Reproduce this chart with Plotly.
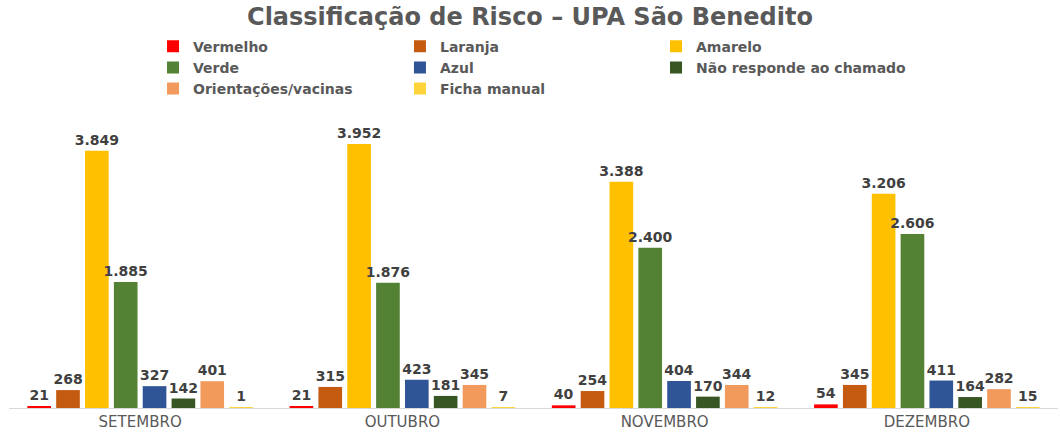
import plotly.graph_objects as go

months = ["SETEMBRO", "OUTUBRO", "NOVEMBRO", "DEZEMBRO"]
series_names = ["Vermelho", "Laranja", "Amarelo", "Verde", "Azul",
                "Não responde ao chamado", "Orientações/vacinas", "Ficha manual"]
vermelho = [21, 21, 40, 54]
laranja = [268, 315, 254, 345]
amarelo = [3849, 3952, 3388, 3206]
verde = [1885, 1876, 2400, 2606]
azul = [327, 423, 404, 411]
nao_responde = [142, 181, 170, 164]
orientacoes = [401, 345, 344, 282]
ficha_manual = [1, 7, 12, 15]
colors = ["#FF0000", "#C55A11", "#FFC000", "#548235", "#2F5597",
          "#375623", "#F29A5C", "#FFD43A"]

values = [vermelho, laranja, amarelo, verde, azul, nao_responde, orientacoes, ficha_manual]
# legend column of each series (3 columns, filled row by row)
legend_ids = ["legend", "legend2", "legend3"]

FONT = "DejaVu Sans"

fig = go.Figure()
for i, (name, vals, c) in enumerate(zip(series_names, values, colors)):
    fig.add_trace(go.Bar(
        x=months, y=vals, name=name, marker_color=c, marker_line_width=0,
        texttemplate="%{y:,}", textposition="outside", cliponaxis=False,
        constraintext="none", legend=legend_ids[i % 3],
        textfont=dict(family=FONT, size=14, color="#404040", weight="bold"),
    ))

legend_font = dict(family=FONT, size=14, color="#595959", weight="bold")
legend_common = dict(orientation="v", xanchor="left", y=1.258, yanchor="top",
                     bgcolor="rgba(0,0,0,0)", font=legend_font)

fig.update_layout(
    width=1060, height=432,
    paper_bgcolor="white", plot_bgcolor="white",
    separators=",.",
    margin=dict(l=9, r=2, t=108, b=24),
    barmode="group", bargap=0.12, bargroupgap=0.18,
    title=dict(text="<b>Classificação de Risco – UPA São Benedito</b>",
               x=0.5, xanchor="center", y=0.9606, yanchor="middle",
               font=dict(family=FONT, size=24, color="#595959")),
    legend=dict(x=0.1373, **legend_common),
    legend2=dict(x=0.3727, **legend_common),
    legend3=dict(x=0.6168, **legend_common),
    showlegend=True,
    font=dict(family=FONT, color="#595959"),
)
fig.update_xaxes(showline=True, linecolor="#D9D9D9", linewidth=1, ticks="",
                 tickfont=dict(family=FONT, size=15, color="#595959"))
fig.update_yaxes(visible=False, range=[0, 4490], showgrid=False, zeroline=False)

fig.write_html("out.html", config={"displayModeBar": False},
               post_script="document.body.style.margin='0';")
